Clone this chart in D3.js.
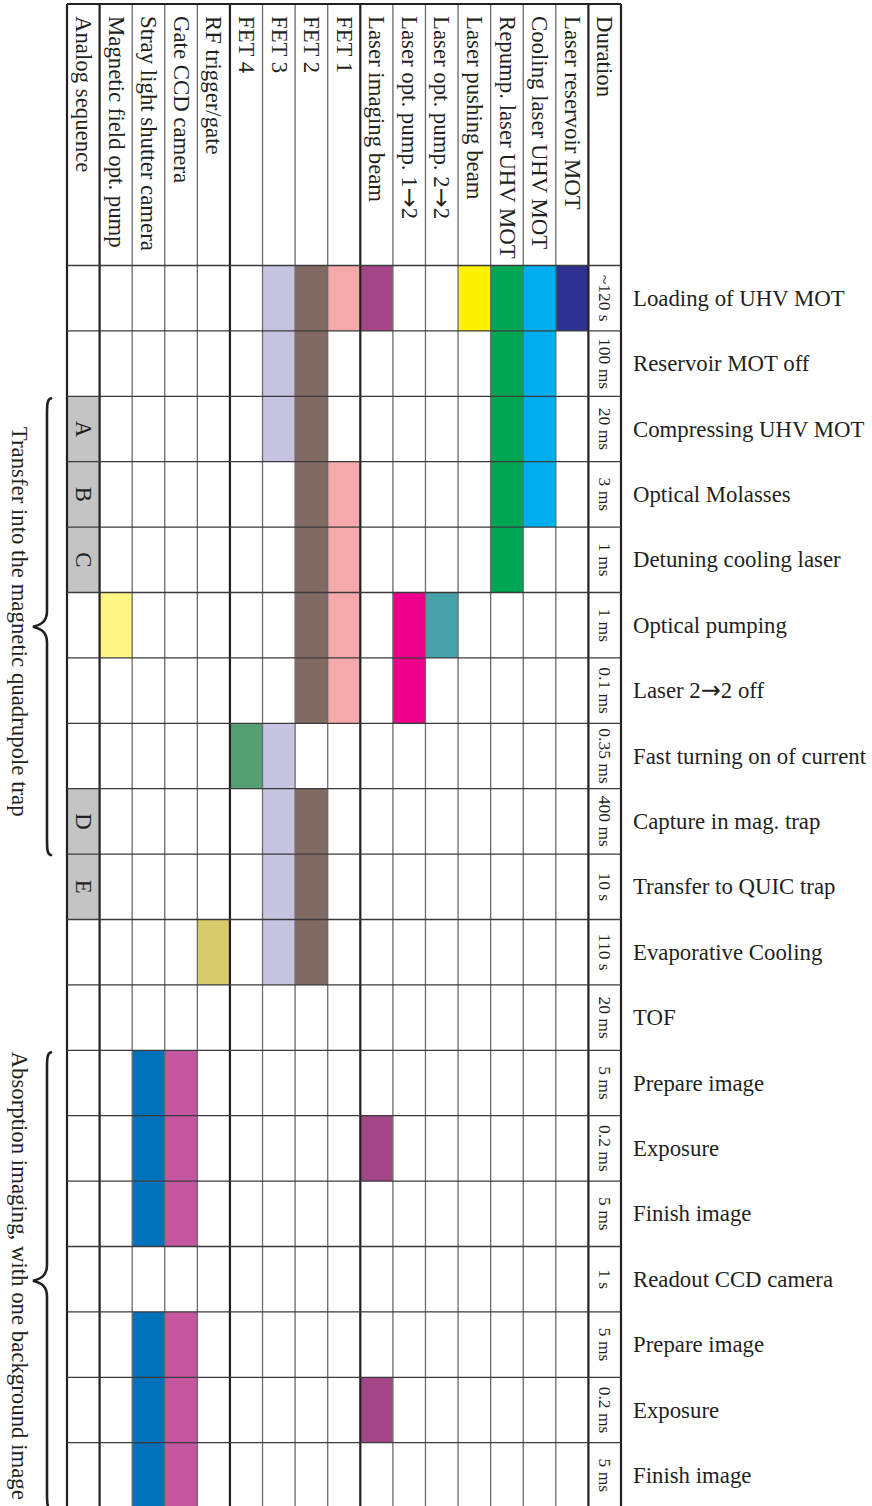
<!DOCTYPE html>
<html>
<head>
<meta charset="utf-8">
<script src="https://cdn.jsdelivr.net/npm/d3@7"></script>
<style>
  html, body { margin: 0; padding: 0; background: #fff; }
  svg { display: block; }
  text { font-family: "Liberation Serif", "Times New Roman", serif; fill: #231f20; }
  tspan.arrow { font-family: "DejaVu Sans", sans-serif; }
</style>
</head>
<body>
<svg id="chart" width="872" height="1506"></svg>
<script>
// ---------------- DATA ----------------
// Channels, left to right (the "Duration" column is the last column)
const channels = [
  "Analog sequence", "Magnetic field opt. pump", "Stray light shutter camera",
  "Gate CCD camera", "RF trigger/gate", "FET 4", "FET 3", "FET 2", "FET 1",
  "Laser imaging beam", "Laser opt. pump. 1\u21922", "Laser opt. pump. 2\u21922",
  "Laser pushing beam", "Repump. laser UHV MOT", "Cooling laser UHV MOT",
  "Laser reservoir MOT"
];
const durationHeader = "Duration";

// Sequence steps (rows, top to bottom)
const steps = [
  "Loading of UHV MOT", "Reservoir MOT off", "Compressing UHV MOT",
  "Optical Molasses", "Detuning cooling laser", "Optical pumping",
  "Laser 2\u21922 off", "Fast turning on of current", "Capture in mag. trap",
  "Transfer to QUIC trap", "Evaporative Cooling", "TOF", "Prepare image",
  "Exposure", "Finish image", "Readout CCD camera", "Prepare image",
  "Exposure", "Finish image"
];
const durations = [
  "~120 s", "100 ms", "20 ms", "3 ms", "1 ms", "1 ms", "0.1 ms", "0.35 ms",
  "400 ms", "10 s", "110 s", "20 ms", "5 ms", "0.2 ms", "5 ms", "1 s",
  "5 ms", "0.2 ms", "5 ms"
];

// Steps (row indices) during which each channel is on, same order as channels
const activeRows = [
  [2, 3, 4, 8, 9],                       // Analog sequence
  [5],                                   // Magnetic field opt. pump
  [12, 13, 14, 16, 17, 18],              // Stray light shutter camera
  [12, 13, 14, 16, 17, 18],              // Gate CCD camera
  [10],                                  // RF trigger/gate
  [7],                                   // FET 4
  [0, 1, 2, 7, 8, 9, 10],                // FET 3
  [0, 1, 2, 3, 4, 5, 6, 8, 9, 10],       // FET 2
  [0, 3, 4, 5, 6],                       // FET 1
  [0, 13, 17],                           // Laser imaging beam
  [5, 6],                                // Laser opt. pump 1->2
  [5],                                   // Laser opt. pump 2->2
  [0],                                   // Laser pushing beam
  [0, 1, 2, 3, 4],                       // Repump laser UHV MOT
  [0, 1, 2, 3],                          // Cooling laser UHV MOT
  [0]                                    // Laser reservoir MOT
];
// Letters of the analog sequence (by row)
const analogRows = [2, 3, 4, 8, 9];
const analogLetters = ["A", "B", "C", "D", "E"];

// Bracketed groups of steps
const groupLabels = [
  "Transfer into the magnetic quadrupole trap",
  "Absorption imaging, with one background image"
];
const groupStartRow = [2, 12];
const groupEndRow = [8, 18];

// ---------------- STYLE ----------------
const channelColors = [
  "#c4c4c4", "#fff685", "#0072bb", "#c557a0", "#d8cb6b", "#559f72",
  "#c7c4e2", "#806a63", "#f5a9ab", "#a44586", "#ec008c", "#45a2aa",
  "#fff200", "#00a651", "#00aeef", "#2e3192"
];
// column boundaries drawn with heavy rules (index of boundary)
const heavyCols = [0, 1, 5, 9, 16, 17];

const gLeft = 67, gRight = 621, gTop = 4, headerBottom = 265.5, rowH = 65.4;
const fontBig = 22.8, fontSmall = 17.5;

const svg = d3.select("#chart");

const colDomain = channels.concat([durationHeader]);
const x = d3.scaleBand().domain(colDomain).range([gLeft, gRight]).paddingInner(0).paddingOuter(0);
const y = d3.scaleBand().domain(d3.range(steps.length))
  .range([headerBottom, headerBottom + rowH * steps.length]).paddingInner(0).paddingOuter(0);

// write a label, drawing the arrow glyph with a font that has a full-size arrow
function writeLabel(sel) {
  sel.each(function (d) {
    const t = d3.select(this);
    const parts = String(d).split("\u2192");
    parts.forEach((p, i) => {
      if (i > 0) t.append("tspan").attr("class", "arrow").attr("font-size", "1.05em").text("\u2192");
      t.append("tspan").text(p);
    });
  });
}

// ---------------- CELLS ----------------
const cells = [];
channels.forEach((ch, i) => activeRows[i].forEach(r => cells.push({ch, r, color: channelColors[i]})));
svg.append("g").selectAll("rect").data(cells).join("rect")
  .attr("x", d => x(d.ch)).attr("y", d => y(d.r))
  .attr("width", x.bandwidth()).attr("height", y.bandwidth())
  .attr("fill", d => d.color);

// ---------------- GRID ----------------
const gBottom = headerBottom + rowH * steps.length;
const grid = svg.append("g");
const colEdges = colDomain.map(c => x(c)).concat([gRight]);
grid.selectAll("line.v").data(colEdges).join("line")
  .attr("x1", d => d).attr("x2", d => d)
  .attr("y1", gTop).attr("y2", gBottom)
  .attr("stroke", (d, i) => heavyCols.includes(i) ? "#231f20" : "#6a6a6a")
  .attr("stroke-width", (d, i) => heavyCols.includes(i) ? 2.2 : 1.3);
const rowEdges = [gTop, headerBottom].concat(d3.range(1, steps.length + 1).map(i => headerBottom + rowH * i));
grid.selectAll("line.h").data(rowEdges).join("line")
  .attr("x1", gLeft).attr("x2", gRight)
  .attr("y1", d => d).attr("y2", d => d)
  .attr("stroke", (d, i) => i === 0 ? "#231f20" : "#3a3a3a")
  .attr("stroke-width", (d, i) => i === 0 ? 2.2 : 1.3);

// ---------------- HEADER TEXT ----------------
const cx = c => x(c) + x.bandwidth() / 2;
svg.append("g").selectAll("text").data(colDomain).join("text")
  .attr("transform", d => `translate(${cx(d) - 7.3},${gTop + 12}) rotate(90)`)
  .attr("font-size", fontBig)
  .call(writeLabel);

// durations
svg.append("g").selectAll("text").data(durations).join("text")
  .attr("transform", (d, i) => `translate(${cx(durationHeader) - 5.8},${y(i) + y.bandwidth() / 2}) rotate(90)`)
  .attr("text-anchor", "middle")
  .attr("font-size", fontSmall)
  .text(d => d);

// analog letters
svg.append("g").selectAll("text").data(analogLetters).join("text")
  .attr("transform", (d, i) => `translate(${cx(channels[0]) - 7.3},${y(analogRows[i]) + y.bandwidth() / 2}) rotate(90)`)
  .attr("text-anchor", "middle")
  .attr("font-size", fontBig)
  .text(d => d);

// step labels
svg.append("g").selectAll("text").data(steps).join("text")
  .attr("x", 633)
  .attr("y", (d, i) => y(i) + y.bandwidth() / 2 + 7.5)
  .attr("font-size", fontBig)
  .call(writeLabel);

// ---------------- BRACES ----------------
function bracePath(y0, y1) {
  const xe = 51, xb = 47, xt = 33, ym = (y0 + y1) / 2;
  return `M${xe},${y0} C${xb},${y0 + 1} ${xb},${y0 + 6} ${xb},${y0 + 18}
          L${xb},${ym - 16} C${xb},${ym - 5} ${xt + 8},${ym - 2} ${xt},${ym}
          C${xt + 8},${ym + 2} ${xb},${ym + 5} ${xb},${ym + 16}
          L${xb},${y1 - 18} C${xb},${y1 - 6} ${xb},${y1 - 1} ${xe},${y1}`;
}
const groups = groupLabels.map((g, i) => ({
  label: g,
  y0: y(groupStartRow[i]) + 2,
  y1: y(groupEndRow[i]) + y.bandwidth() + 1
}));
const gb = svg.append("g");
gb.selectAll("path").data(groups).join("path")
  .attr("d", d => bracePath(d.y0, d.y1))
  .attr("fill", "none").attr("stroke", "#231f20").attr("stroke-width", 2.6)
  .attr("stroke-linecap", "round");
gb.selectAll("text").data(groups).join("text")
  .attr("transform", d => `translate(12,${(d.y0 + d.y1) / 2 - 5}) rotate(90)`)
  .attr("text-anchor", "middle")
  .attr("font-size", fontBig)
  .text(d => d.label);
</script>
</body>
</html>
